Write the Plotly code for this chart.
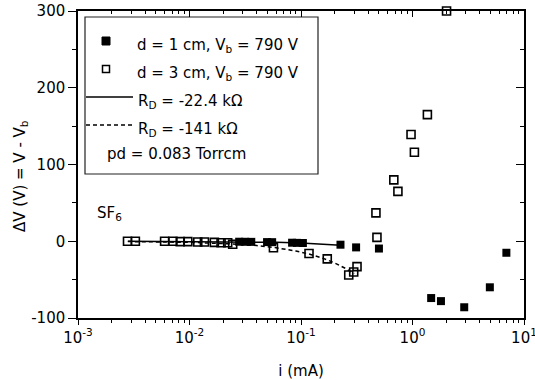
import plotly.graph_objects as go

# ---- data ----
d1_i = [0.0279, 0.0316, 0.0358, 0.0496, 0.0551, 0.0832, 0.092, 0.104, 0.226, 0.312, 0.50,
        1.47, 1.80, 2.91, 4.94, 6.95]
d1_dv = [-0.6, -0.7, -0.8, -1.1, -1.2, -1.9, -2.1, -2.3, -4.5, -8, -9.5,
         -74, -78, -86, -60, -15]

d3_i = [0.00278, 0.00327, 0.00598, 0.0071, 0.00826, 0.00966, 0.01186, 0.01361, 0.01671,
        0.01919, 0.022, 0.0244, 0.0566, 0.118, 0.172, 0.268, 0.297, 0.318,
        0.47, 0.48, 0.68, 0.74, 0.97, 1.04, 1.36, 2.02]
d3_dv = [0, 0, 0, 0, -0.5, -0.5, -1, -1, -1.5, -2, -2, -4, -8.5, -16, -23, -44, -40, -33,
         37, 5, 80, 65, 139, 116, 165, 300]

fit1_i = [0.0028, 0.01, 0.03, 0.06, 0.1, 0.15, 0.226]
fit1_dv = [-0.06, -0.22, -0.67, -1.34, -2.24, -3.36, -5.06]

fit2_i = [0.0028, 0.01, 0.024, 0.04, 0.06, 0.09, 0.12, 0.16, 0.2, 0.25, 0.30]
fit2_dv = [-0.4, -1.4, -3.4, -5.6, -8.5, -12.7, -16.9, -22.6, -28.2, -35.3, -42.3]

x_tickvals = [0.001, 0.01, 0.1, 1, 10]
x_ticktext = ["10<sup>-3</sup>", "10<sup>-2</sup>", "10<sup>-1</sup>", "10<sup>0</sup>", "10<sup>1</sup>"]
y_tickvals = [-100, 0, 100, 200, 300]
y_ticktext = ["-100", "0", "100", "200", "300"]

legend_labels = ["d = 1 cm, V<sub>b</sub> = 790 V",
                 "d = 3 cm, V<sub>b</sub> = 790 V",
                 "R<sub>D</sub> = -22.4 kΩ",
                 "R<sub>D</sub> = -141 kΩ",
                 "pd = 0.083 Torrcm"]

# ---- layout geometry (page pixels) ----
W, H = 535, 380
PLOT_L, PLOT_R, PLOT_T, PLOT_B = 78, 524, 11, 318
L, T = PLOT_L, PLOT_T
R, B = W - PLOT_R, H - PLOT_B
PW, PH = W - L - R, H - T - B
FONT = "DejaVu Sans"


def px(x):
    return (x - PLOT_L) / PW


def py(y):
    return (PLOT_B - y) / PH


fig = go.Figure()

fig.add_trace(go.Scatter(x=fit1_i, y=fit1_dv, mode="lines",
                         line=dict(color="black", width=1.5), showlegend=False))
fig.add_trace(go.Scatter(x=fit2_i, y=fit2_dv, mode="lines",
                         line=dict(color="black", width=1.5, dash="4px,3px"), showlegend=False))
fig.add_trace(go.Scatter(x=d3_i, y=d3_dv, mode="markers", cliponaxis=False,
                         marker=dict(symbol="square-open", size=8, color="black",
                                     line=dict(width=1.6, color="black")),
                         showlegend=False))
fig.add_trace(go.Scatter(x=d1_i, y=d1_dv, mode="markers", cliponaxis=False,
                         marker=dict(symbol="square", size=8, color="black"),
                         showlegend=False))
# invisible trace for mirrored tick axes
fig.add_trace(go.Scatter(x=[0.01], y=[0], xaxis="x2", yaxis="y2", mode="markers",
                         marker=dict(opacity=0), showlegend=False, hoverinfo="skip"))

axis_font = dict(family=FONT, size=15, color="black")

fig.update_layout(
    width=W, height=H,
    margin=dict(l=L, r=R, t=T, b=B, pad=0, autoexpand=False),
    paper_bgcolor="white", plot_bgcolor="white",
    font=dict(family=FONT, size=15, color="black"),
    xaxis=dict(type="log", range=[-3, 1], showgrid=False, zeroline=False, automargin=False,
               showline=True, linecolor="black", linewidth=1.5, mirror=True,
               ticks="outside", ticklen=5, tickwidth=1.2, tickcolor="black",
               tickvals=x_tickvals, ticktext=x_ticktext, tickfont=axis_font,
               ticklabeloverflow="allow",
               minor=dict(ticks="outside", ticklen=3, tickwidth=1, tickcolor="black", dtick="D1"),
               title=dict(text="i (mA)", font=axis_font, standoff=20)),
    yaxis=dict(range=[-100, 300], showgrid=False, zeroline=False, automargin=False,
               showline=True, linecolor="black", linewidth=1.5, mirror=True,
               ticks="outside", ticklen=8, tickwidth=1.2, tickcolor="black",
               tickvals=y_tickvals, ticktext=y_ticktext, tickfont=axis_font,
               ticklabeloverflow="allow",
               minor=dict(ticks="outside", ticklen=4, tickwidth=1, tickcolor="black", dtick=50)),
    xaxis2=dict(type="log", range=[-3, 1], overlaying="x", side="top", anchor="y",
                showgrid=False, zeroline=False, showline=False, automargin=False,
                ticks="inside", ticklen=6, tickwidth=1.2, tickcolor="black",
                tickvals=x_tickvals, showticklabels=False,
                minor=dict(ticks="inside", ticklen=3, tickwidth=1, tickcolor="black", dtick="D1")),
    yaxis2=dict(range=[-100, 300], overlaying="y", side="right", anchor="x",
                showgrid=False, zeroline=False, showline=False, automargin=False,
                ticks="inside", ticklen=8, tickwidth=1.2, tickcolor="black",
                tickvals=y_tickvals, showticklabels=False,
                minor=dict(ticks="inside", ticklen=4, tickwidth=1, tickcolor="black", dtick=50)),
)

# ---- y-axis title as rotated annotation ----
fig.add_annotation(xref="paper", yref="paper", x=px(20), y=py(176),
                   text="ΔV (V) = V - V<sub>b</sub>", showarrow=False, textangle=-90,
                   xanchor="center", yanchor="middle",
                   font=dict(family=FONT, size=15, color="black"))

# ---- hand-made legend box ----
shapes = []
shapes.append(dict(type="rect", xref="paper", yref="paper",
                   x0=px(85), x1=px(318), y0=py(174), y1=py(17),
                   line=dict(color="#222", width=1.2), fillcolor="white", layer="below"))
shapes.append(dict(type="rect", xref="paper", yref="paper",
                   x0=px(102), x1=px(110), y0=py(45), y1=py(37),
                   line=dict(color="black", width=1), fillcolor="black"))
shapes.append(dict(type="rect", xref="paper", yref="paper",
                   x0=px(102.5), x1=px(109.5), y0=py(72.5), y1=py(65.5),
                   line=dict(color="black", width=1.5), fillcolor="white"))
shapes.append(dict(type="line", xref="paper", yref="paper",
                   x0=px(86), x1=px(133), y0=py(97), y1=py(97),
                   line=dict(color="black", width=1.5)))
shapes.append(dict(type="line", xref="paper", yref="paper",
                   x0=px(86), x1=px(133), y0=py(125), y1=py(125),
                   line=dict(color="black", width=1.5, dash="4px,3px")))
fig.update_layout(shapes=shapes)

leg_x = [135, 135, 136, 136, 105]
leg_y = [41, 69, 97, 125, 154]
for lbl, lx, ly in zip(legend_labels, leg_x, leg_y):
    has_sub = "<sub>" in lbl
    fig.add_annotation(xref="paper", yref="paper", x=px(lx), y=py(ly + (4 if has_sub else 0)),
                       text=lbl, showarrow=False, xanchor="left", yanchor="middle",
                       font=dict(family=FONT, size=15, color="black"))

fig.add_annotation(xref="paper", yref="paper", x=px(95), y=py(213),
                   text="SF<sub>6</sub>", showarrow=False, xanchor="left", yanchor="middle",
                   font=dict(family=FONT, size=15, color="black"))

fig.write_html("out.html", post_script="document.body.style.margin='0px';",
               config={"displayModeBar": False})
